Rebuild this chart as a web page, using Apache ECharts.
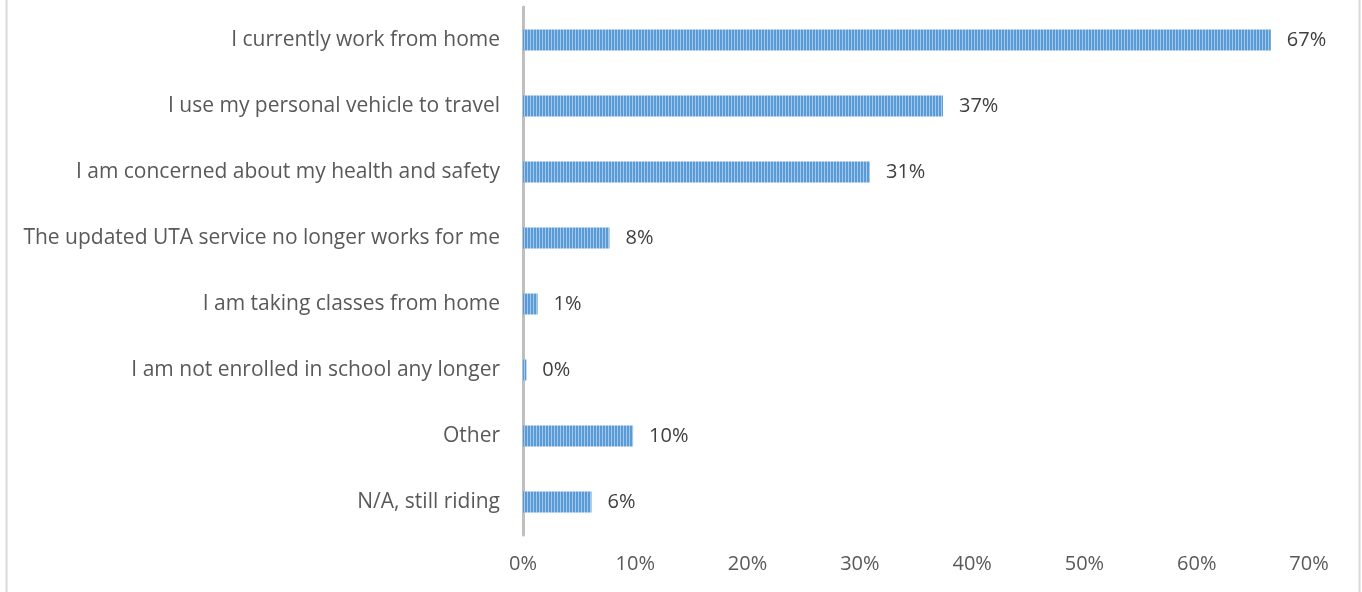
<!DOCTYPE html>
<html>
<head>
<meta charset="utf-8">
<script src="https://cdn.jsdelivr.net/npm/echarts@6/dist/echarts.min.js"></script>
<style>
  html, body { margin: 0; padding: 0; background: #ffffff; }
  #chart { width: 1362px; height: 592px; }
</style>
</head>
<body>
<div id="chart"></div>
<script>
// Reasons for not riding, share of respondents (%)
const categories = [
  'I currently work from home',
  'I use my personal vehicle to travel',
  'I am concerned about my health and safety',
  'The updated UTA service no longer works for me',
  'I am taking classes from home',
  'I am not enrolled in school any longer',
  'Other',
  'N/A, still riding'
];
const shares = [66.6, 37.4, 30.9, 7.7, 1.3, 0.3, 9.8, 6.1];
const axisTicks = [0, 10, 20, 30, 40, 50, 60, 70];

// Vertical pinstripe fill for the bars
function stripeFill() {
  const c = document.createElement('canvas');
  c.width = 3; c.height = 4;
  const g = c.getContext('2d');
  g.fillStyle = '#5b9bd5';
  g.fillRect(0, 0, 3, 4);
  g.fillStyle = '#a3c8ee';
  g.fillRect(2, 0, 1, 4);
  return c;
}

const chart = echarts.init(document.getElementById('chart'), null, { renderer: 'canvas' });
const font = '"Open Sans", "Liberation Sans", sans-serif';

chart.setOption({
  animation: false,
  backgroundColor: '#ffffff',
  graphic: [
    { type: 'line', shape: { x1: 6.5, y1: 0, x2: 6.5, y2: 592 }, style: { stroke: '#d9d9d9', lineWidth: 2 } },
    { type: 'line', shape: { x1: 1359.5, y1: 0, x2: 1359.5, y2: 592 }, style: { stroke: '#d9d9d9', lineWidth: 2 } }
  ],
  grid: { left: 523, right: 53, top: 7, bottom: 57, containLabel: false },
  xAxis: {
    type: 'value',
    min: axisTicks[0],
    max: axisTicks[axisTicks.length - 1],
    interval: 10,
    axisLine: { show: false },
    axisTick: { show: false },
    splitLine: { show: false },
    axisLabel: {
      formatter: v => v + '%',
      color: '#595959',
      fontFamily: font,
      fontSize: 20,
      margin: 19
    }
  },
  yAxis: {
    type: 'category',
    data: categories,
    inverse: true,
    axisLine: { show: true, lineStyle: { color: '#bfbfbf', width: 3 } },
    axisTick: { show: false },
    axisLabel: {
      color: '#595959',
      fontFamily: font,
      fontSize: 21,
      margin: 23
    }
  },
  series: [{
    type: 'bar',
    data: shares,
    barWidth: 21,
    itemStyle: { color: { image: stripeFill(), repeat: 'repeat' } },
    label: {
      show: true,
      position: 'right',
      distance: 16,
      formatter: p => Math.round(p.value) + '%',
      color: '#404040',
      fontFamily: font,
      fontSize: 20
    }
  }]
});
</script>
</body>
</html>
